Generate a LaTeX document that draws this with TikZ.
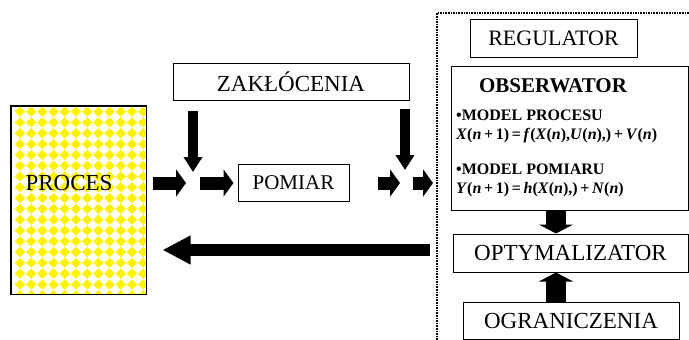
\documentclass[tikz,border=0pt]{standalone}
\usepackage{fontspec}
\setmainfont{Liberation Serif}
\usetikzlibrary{arrows.meta}
\tikzstyle{block} = [rectangle, draw=black, line width=1pt, fill=white, inner sep=0pt, text centered, font=\fontsize{23}{26}\selectfont]
\tikzstyle{txt} = [inner sep=0pt, font=\fontsize{23}{26}\selectfont]
\tikzstyle{model} = [inner sep=0pt, align=left, font=\fontsize{16}{19}\selectfont\bfseries]
\tikzstyle{fat} = [line width=13pt, -{Triangle[length=10pt, width=27pt]}]
\tikzstyle{drop} = [line width=10pt, -{Triangle[length=15pt, width=18pt]}]
\tikzstyle{back} = [line width=12pt, -{Triangle[length=28pt, width=27pt]}]
\tikzstyle{stub} = [line width=20pt, -{Triangle[length=9pt, width=34pt]}]
\newcommand{\iv}[1]{\textit{#1}}

\begin{document}
\begin{tikzpicture}[x=1pt, y=-1pt]
\useasboundingbox (0,0) rectangle (689,340);

%% REGULATOR FRAME

\draw [densely dotted, line width=1.6pt] (437,340) -- (437,13) -- (689,13);

%% NODES

\node (proc) [block, minimum width=135pt, minimum height=188pt] at (78.5,200) {};
\begin{scope}
\clip (proc.south west) rectangle (proc.north east);
\foreach \i in {0,...,12}
  \foreach \j in {0,...,17}
    \fill [yellow] (20+11.2*\i,111.7+10.8*\j) +(-5.3,0) -- +(0,-5.1) -- +(5.3,0) -- +(0,5.1) -- cycle;
\end{scope}
\draw [line width=1pt] (proc.south west) rectangle (proc.north east);
\node (proc_label) [txt] at (69,183) {PROCES};

\node (zak) [block, minimum width=236pt, minimum height=37pt] at (291,81.5) {ZAKŁÓCENIA};
\node (pom) [block, minimum width=111pt, minimum height=37pt, font=\fontsize{21}{24}\selectfont] at (293.5,182.5) {POMIAR};

\node (reg) [block, minimum width=167pt, minimum height=38pt, font=\fontsize{22}{25}\selectfont] at (553.5,38) {REGULATOR};
\node (obs) [block, minimum width=237pt, minimum height=144pt] at (569.5,138) {};
\node (obs_title) [txt, font=\fontsize{21}{24}\selectfont\bfseries] at (553,86) {OBSERWATOR};
\node (mp1) [model, anchor=north west] at (456,110) {•MODEL PROCESU\\
  \iv{X}(\iv{n}\,+\,1)\,=\,\iv{f}(\iv{X}(\iv{n}),\iv{U}(\iv{n}),)\,+\,\iv{V}(\iv{n})};
\node (mp2) [model, anchor=north west] at (456,164) {•MODEL POMIARU\\
  \iv{Y}(\iv{n}\,+\,1)\,=\,\iv{h}(\iv{X}(\iv{n}),)\,+\,\iv{N}(\iv{n})};
\node (opt) [block, minimum width=235pt, minimum height=38pt] at (570.5,253) {OPTYMALIZATOR};
\node (ogr) [block, minimum width=216pt, minimum height=37pt] at (571,321) {OGRANICZENIA};

\coordinate (j1) at (193,183);
\coordinate (j2) at (405,183);
\coordinate (fb) at (430,250);

%% ARROWS

\draw [drop] ([yshift=-10pt]zak.south -| j1) -- ([yshift=11pt]j1);
\draw [drop] ([yshift=-8pt]zak.south -| j2) -- ([yshift=13pt]j2);
\draw [fat] ([xshift=6pt]proc.east |- j1) -- ([xshift=-7pt]j1);
\draw [fat] ([xshift=7pt]j1) -- ([xshift=-4pt]pom.west |- j1);
\draw [fat] ([xshift=-27pt]j2) -- ([xshift=-5pt]j2);
\draw [fat] ([xshift=8pt]j2) -- ([xshift=28pt]j2);
\draw [back] (fb) -- ([xshift=16pt]proc.east |- fb);
\draw [stub] ([xshift=-13.5pt]obs.south) -- ([xshift=-14.5pt]opt.north);
\draw [stub] ([xshift=-15pt]ogr.north) -- ([xshift=-14.5pt]opt.south);

\end{tikzpicture}
\end{document}
